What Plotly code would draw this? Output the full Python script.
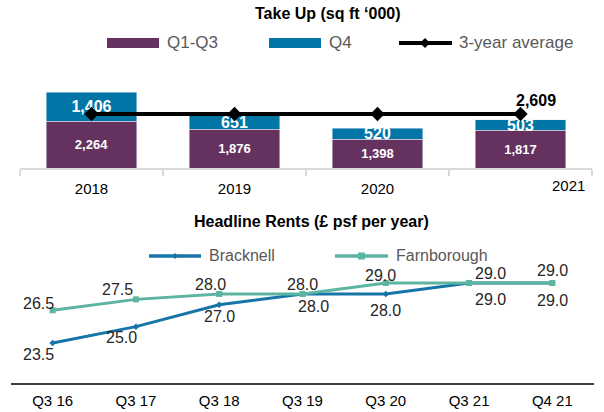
import plotly.graph_objects as go

# ---- data ----
years = ["2018", "2019", "2020", "2021"]
q1_q3 = [2264, 1876, 1398, 1817]
q4 = [1406, 651, 520, 503]
three_year_avg = [2609, 2609, 2609, 2609]

quarters = ["Q3 16", "Q3 17", "Q3 18", "Q3 19", "Q3 20", "Q3 21", "Q4 21"]
bracknell = [23.5, 25.0, 27.0, 28.0, 28.0, 29.0, 29.0]
farnborough = [26.5, 27.5, 28.0, 28.0, 29.0, 29.0, 29.0]

# ---- styling ----
W, H = 604, 412
FONT = "Liberation Sans, Arial, sans-serif"
PURPLE = "#65315f"
BLUE = "#0075a6"
BRACK = "#1774a8"
FARN = "#5db4a0"
LEGEND_GREY = "#595959"


def px(x):
    return x / W


def py(y):
    return 1 - y / H


fig = go.Figure()

# ---- Take Up: stacked bars + average line ----
fig.add_trace(go.Bar(
    x=years, y=q1_q3, marker_color=PURPLE, width=0.636,
    text=[f"{v:,}" for v in q1_q3], textposition="inside",
    insidetextanchor="middle", textangle=0, constraintext="none",
    textfont=dict(family=FONT, size=13, color="white", weight="bold"),
    xaxis="x", yaxis="y", showlegend=False, hoverinfo="skip",
))
fig.add_trace(go.Bar(
    x=years, y=q4, marker_color=BLUE, width=0.636,
    text=[f"{v:,}" for v in q4], textposition="inside",
    insidetextanchor="middle", textangle=0, constraintext="none",
    textfont=dict(family=FONT, size=16, color="white", weight="bold"),
    xaxis="x", yaxis="y", showlegend=False, hoverinfo="skip",
))
fig.add_trace(go.Scatter(
    x=years, y=three_year_avg, mode="lines+markers",
    line=dict(color="black", width=4),
    marker=dict(symbol="diamond", size=11, color="black"),
    xaxis="x", yaxis="y", showlegend=False, hoverinfo="skip",
))

# ---- Headline Rents: lines ----
fig.add_trace(go.Scatter(
    x=quarters, y=bracknell, mode="lines+markers",
    line=dict(color=BRACK, width=3),
    marker=dict(symbol="diamond", size=5, color=BRACK),
    xaxis="x2", yaxis="y2", showlegend=False, hoverinfo="skip",
))
fig.add_trace(go.Scatter(
    x=quarters, y=farnborough, mode="lines+markers",
    line=dict(color=FARN, width=3),
    marker=dict(symbol="square", size=6, color=FARN),
    xaxis="x2", yaxis="y2", showlegend=False, hoverinfo="skip",
))

annotations = []
shapes = []

# value labels for the rents (offsets in px from each point)
farn_off = [(-14, 7), (-18, 10), (-9, 9), (0, 9), (-5, 8), (21, 10), (0, 13)]
brack_off = [(-14, -11), (-14, -11), (0, -12), (11, -13), (0, -17), (21, -16), (0, -17)]
for i, q in enumerate(quarters):
    dx, dy = farn_off[i]
    annotations.append(dict(x=i, y=farnborough[i], xref="x2", yref="y2",
                            text=f"{farnborough[i]:.1f}", showarrow=False,
                            xshift=dx, yshift=dy,
                            font=dict(family=FONT, size=16, color="#262626")))
    dx, dy = brack_off[i]
    annotations.append(dict(x=i, y=bracknell[i], xref="x2", yref="y2",
                            text=f"{bracknell[i]:.1f}", showarrow=False,
                            xshift=dx, yshift=dy,
                            font=dict(family=FONT, size=16, color="#262626")))

# average value label on the last point
last = len(years) - 1
annotations.append(dict(x=last, y=three_year_avg[last], xref="x", yref="y",
                        text=f"<b>{three_year_avg[last]:,}</b>", showarrow=False,
                        xshift=15, yshift=13,
                        font=dict(family=FONT, size=16, color="black")))

# last year label sits at the right end of the axis
annotations.append(dict(x=px(587), y=py(185), xref="paper", yref="paper",
                        yanchor="middle", text=years[last], showarrow=False,
                        font=dict(family=FONT, size=15, color="black")))

# titles
annotations.append(dict(x=px(328), y=py(14), xref="paper", yref="paper",
                        yanchor="middle",
                        text="<b>Take Up (sq ft ‘000)</b>", showarrow=False,
                        font=dict(family=FONT, size=16, color="black")))
annotations.append(dict(x=px(311), y=py(221), xref="paper", yref="paper",
                        yanchor="middle",
                        text="<b>Headline Rents (£ psf per year)</b>", showarrow=False,
                        font=dict(family=FONT, size=16, color="black")))

# ---- legend for Take Up ----
ly = 43
shapes.append(dict(type="rect", xref="paper", yref="paper", x0=px(107), x1=px(159),
                   y0=py(ly - 5), y1=py(ly + 5), fillcolor=PURPLE, line_width=0))
shapes.append(dict(type="rect", xref="paper", yref="paper", x0=px(269), x1=px(321),
                   y0=py(ly - 5), y1=py(ly + 5), fillcolor=BLUE, line_width=0))
shapes.append(dict(type="line", xref="paper", yref="paper", x0=px(399), x1=px(452),
                   y0=py(ly), y1=py(ly), line=dict(color="black", width=4)))
shapes.append(dict(type="path", xref="paper", yref="paper",
                   path=(f"M {px(425)} {py(ly - 5)} L {px(430)} {py(ly)} "
                         f"L {px(425)} {py(ly + 5)} L {px(420)} {py(ly)} Z"),
                   fillcolor="black", line_width=0))
for x0, label in [(165, "Q1-Q3"), (327, "Q4"), (457, "3-year average")]:
    annotations.append(dict(x=px(x0), y=py(ly), xref="paper", yref="paper",
                            xanchor="left", yanchor="middle", text=label,
                            showarrow=False,
                            font=dict(family=FONT, size=17, color=LEGEND_GREY)))

# ---- legend for Headline Rents ----
ly2 = 256
shapes.append(dict(type="line", xref="paper", yref="paper", x0=px(149), x1=px(201),
                   y0=py(ly2), y1=py(ly2), line=dict(color=BRACK, width=3.5)))
shapes.append(dict(type="path", xref="paper", yref="paper",
                   path=(f"M {px(175)} {py(ly2 - 3)} L {px(178)} {py(ly2)} "
                         f"L {px(175)} {py(ly2 + 3)} L {px(172)} {py(ly2)} Z"),
                   fillcolor=BRACK, line_width=0))
shapes.append(dict(type="line", xref="paper", yref="paper", x0=px(335), x1=px(388),
                   y0=py(ly2), y1=py(ly2), line=dict(color=FARN, width=3.5)))
shapes.append(dict(type="rect", xref="paper", yref="paper", x0=px(358), x1=px(365),
                   y0=py(ly2 - 3.5), y1=py(ly2 + 3.5), fillcolor=FARN, line_width=0))
for x0, label in [(207, "Bracknell"), (394, "Farnborough")]:
    annotations.append(dict(x=px(x0), y=py(ly2), xref="paper", yref="paper",
                            xanchor="left", yanchor="middle", text=label,
                            showarrow=False,
                            font=dict(family=FONT, size=16, color=LEGEND_GREY)))

fig.update_layout(
    width=W, height=H, autosize=False,
    margin=dict(l=0, r=0, t=0, b=0),
    paper_bgcolor="white", plot_bgcolor="white",
    barmode="stack", bargap=0.364,
    font=dict(family=FONT),
    xaxis=dict(domain=[px(20), px(592)], type="category", categoryarray=years,
               range=[-0.5, 3.5], tickmode="array", tickvals=years,
               ticktext=years[:3] + [""],
               showline=True, linecolor="#d9d9d9", linewidth=1.5,
               ticks="outside", tickson="boundaries", ticklen=6,
               tickcolor="#d9d9d9", tickwidth=1.5, showgrid=False,
               ticklabelstandoff=6,
               tickfont=dict(family=FONT, size=15, color="black"),
               fixedrange=True),
    yaxis=dict(domain=[py(168), py(70)], range=[0, 98 * 48.3], visible=False,
               fixedrange=True),
    xaxis2=dict(domain=[px(11), px(594)], type="category", categoryarray=quarters,
                range=[-0.5, 6.5], showline=True, linecolor="#404040",
                linewidth=1.5, ticks="", showgrid=False,
                ticklabelstandoff=3,
                tickfont=dict(family=FONT, size=15, color="black"),
                anchor="y2", fixedrange=True),
    yaxis2=dict(domain=[py(383), py(230)], range=[29 - 100 / 10.91, 29 + 53 / 10.91],
                visible=False, anchor="x2", fixedrange=True),
    annotations=annotations,
    shapes=shapes,
)

fig.write_html("out.html")
